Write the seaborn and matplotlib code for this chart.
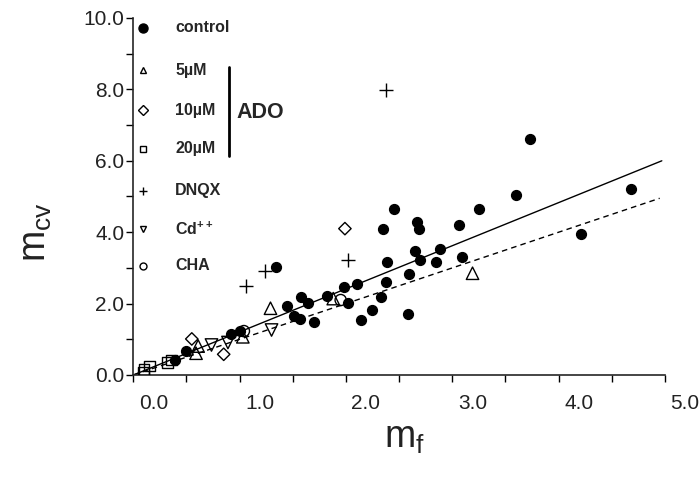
import numpy as np
import pandas as pd
import matplotlib
matplotlib.use("Agg")
import matplotlib.pyplot as plt
import matplotlib.transforms as mtransforms
import seaborn as sns

# ---- data ----
control_x = [0.92, 1.00, 0.50, 0.39, 1.345, 1.45, 1.51, 1.565, 1.58, 1.64, 1.70, 1.82,
             1.98, 2.02, 2.10, 2.14, 2.24, 2.33, 2.345, 2.38, 2.39, 2.45, 2.58, 2.59,
             2.65, 2.67, 2.69, 2.70, 2.85, 2.88, 3.06, 3.09, 3.25, 3.60, 3.73, 4.21, 4.68]
control_y = [1.15, 1.22, 0.66, 0.42, 3.02, 1.94, 1.66, 1.57, 2.19, 2.02, 1.49, 2.22,
             2.46, 2.01, 2.54, 1.55, 1.82, 2.18, 4.09, 2.60, 3.17, 4.64, 1.71, 2.83,
             3.48, 4.29, 4.10, 3.22, 3.17, 3.52, 4.19, 3.30, 4.64, 5.04, 6.60, 3.95, 5.22]

ado5_x = [0.59, 0.61, 1.03, 1.29, 1.88, 3.19]
ado5_y = [0.61, 0.81, 1.07, 1.87, 2.14, 2.85]

ado10_x = [0.55, 0.85, 1.99]
ado10_y = [1.01, 0.58, 4.10]

ado20_x = [0.094, 0.10, 0.15, 0.32, 0.36]
ado20_y = [0.06, 0.16, 0.25, 0.36, 0.42]

dnqx_x = [1.06, 1.24, 2.02, 2.375]
dnqx_y = [2.50, 2.92, 3.23, 7.98]

cd_x = [0.735, 0.89, 1.30]
cd_y = [0.84, 0.91, 1.26]

cha_x = [1.04, 1.95]
cha_y = [1.23, 2.10]

# regression line (solid) and reference line (dashed)
fit_x = [0.0, 4.97]
fit_y = [0.0, 6.00]
ref_x = [0.0, 4.95]
ref_y = [0.0, 4.95]

legend_labels = ["control", "5µM", "10µM", "20µM", "DNQX", r"$\mathbf{Cd^{++}}$", "CHA"]
x_ticklabels = ["0.0", "1.0", "2.0", "3.0", "4.0", "5.0"]
y_ticklabels = ["0.0", "2.0", "4.0", "6.0", "8.0", "10.0"]

# ---- style ----
sns.set_style("ticks")
plt.rcParams["font.family"] = ["Liberation Sans", "DejaVu Sans"]
plt.rcParams["mathtext.fontset"] = "custom"
plt.rcParams["mathtext.rm"] = "Liberation Sans"
plt.rcParams["mathtext.bf"] = "Liberation Sans:bold"

fig = plt.figure(figsize=(6.99, 4.78), dpi=100)
ax = fig.add_axes([133.3 / 699, 1 - 375 / 478, 531.7 / 699, 357 / 478])

groups = [
    ("control", control_x, control_y, "o", "black", 50),
    ("5µM", ado5_x, ado5_y, "^", "none", 80),
    ("10µM", ado10_x, ado10_y, "D", "none", 40),
    ("20µM", ado20_x, ado20_y, "s", "none", 60),
    ("DNQX", dnqx_x, dnqx_y, "+", "black", 90),
    ("Cd++", cd_x, cd_y, "v", "none", 80),
    ("CHA", cha_x, cha_y, "o", "none", 65),
]

ax.plot(fit_x, fit_y, color="black", lw=1.0, zorder=1)
ax.plot(ref_x, ref_y, color="black", lw=1.0, ls=(0, (4, 3)), zorder=1)

for name, gx, gy, mk, fc, size in groups:
    df = pd.DataFrame({"x": gx, "y": gy})
    if mk == "+":
        sns.scatterplot(data=df, x="x", y="y", marker=mk, color=fc, s=size,
                        linewidth=1.0, ax=ax, zorder=3)
    else:
        sns.scatterplot(data=df, x="x", y="y", marker=mk, color=fc, edgecolor="black",
                        s=size, linewidth=1.0, ax=ax, zorder=3)

ax.set_xlim(0, 5)
ax.set_ylim(0, 10)
ax.set_xticks(np.arange(0, 5.01, 1.0))
ax.set_xticks(np.arange(0, 5.01, 0.5), minor=True)
ax.set_yticks(np.arange(0, 10.01, 2.0))
ax.set_yticks(np.arange(0, 10.01, 1.0), minor=True)
ax.set_xticklabels(x_ticklabels)
ax.set_yticklabels(y_ticklabels)
ax.tick_params(which="both", direction="out", length=5, width=1.0, colors="black")
ax.tick_params(axis="x", labelsize=15, pad=9, labelcolor="#222222")
ax.tick_params(axis="y", labelsize=15, pad=1.5, labelcolor="#222222")
sns.despine(ax=ax)
for sp in ["left", "bottom"]:
    ax.spines[sp].set_linewidth(1.2)

# x tick labels sit right of their ticks in the original
offset = mtransforms.ScaledTranslation(20 / 100, 0, fig.dpi_scale_trans)
for lab in ax.get_xticklabels():
    lab.set_transform(lab.get_transform() + offset)

ax.set_xlabel(r"$\mathregular{m_f}$", fontsize=27, color="#222222")
ax.set_ylabel(r"$\mathregular{m_{cv}}$", fontsize=27, color="#222222")
ax.xaxis.set_label_coords(0.51, -0.125)
ax.yaxis.set_label_coords(-0.15, 0.40)

# ---- hand-placed legend (pixel positions from the reference) ----
def fpos(px, py):
    return px / 699, 1 - py / 478

rows_y = [28, 70, 110, 149, 191, 229, 266]
for (name, gx, gy, mk, fc, size), lab, ry in zip(groups, legend_labels, rows_y):
    mx, my = fpos(143, ry)
    if mk == "+":
        fig.add_artist(plt.Line2D([mx], [my], marker=mk, ms=6, color="black",
                                  mew=1.0, ls="none"))
    else:
        fig.add_artist(plt.Line2D([mx], [my], marker=mk,
                                  ms=6.5 if fc == "black" else 5,
                                  mfc="black" if fc == "black" else "white",
                                  mec="black", mew=1.0, ls="none"))
    tx, ty = fpos(175, ry)
    fig.text(tx, ty, lab, fontsize=11.5, fontweight="bold", ha="left", va="center")

b0 = fpos(229.5, 67)
b1 = fpos(229.5, 156)
fig.add_artist(plt.Line2D([b0[0], b1[0]], [b0[1], b1[1]], color="black", lw=2.0))
ax_x, ax_y = fpos(236, 112)
fig.text(ax_x, ax_y, "ADO", fontsize=15.5, fontweight="bold", ha="left", va="center")

fig.savefig("out.png", dpi=100)
